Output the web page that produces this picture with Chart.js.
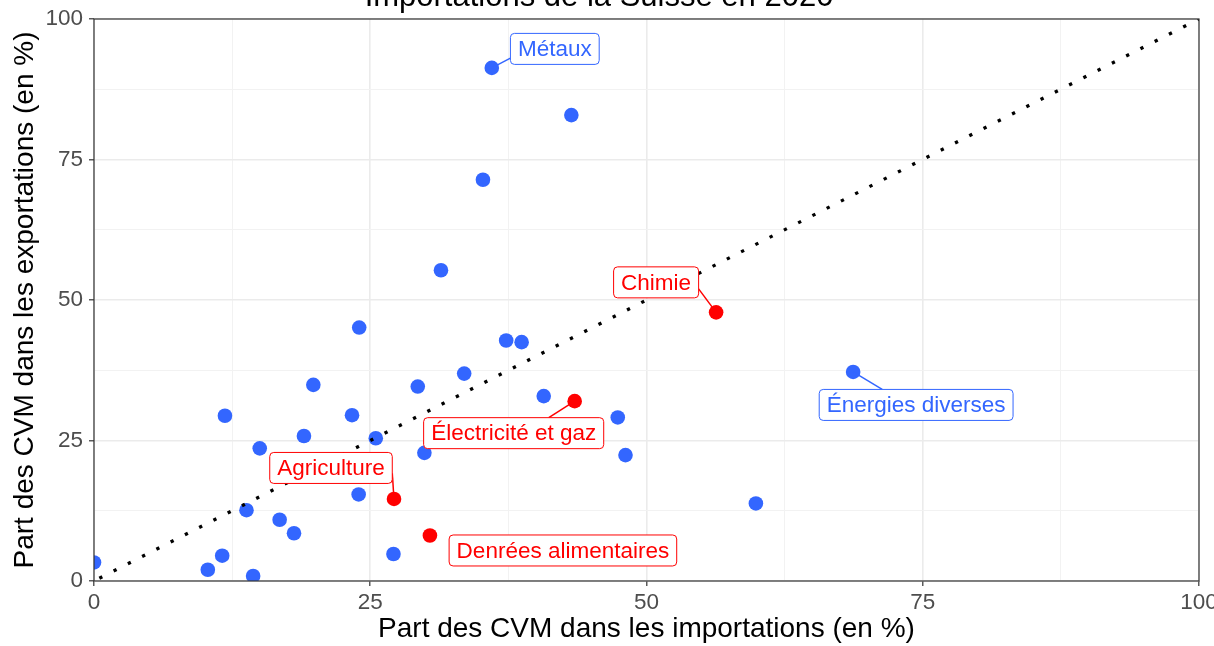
<!DOCTYPE html>
<html>
<head>
<meta charset="utf-8">
<script src="https://cdn.jsdelivr.net/npm/chart.js@4"></script>
<style>
  body { margin: 0; background: #fff; }
  canvas { display: block; }
</style>
</head>
<body>
<canvas id="chart" width="1214" height="646"></canvas>
<script>
// Part des CVM (en %) par secteur
const sectorLabel = ['Métaux', 'Énergies diverses', 'Chimie', 'Électricité et gaz', 'Agriculture', 'Denrées alimentaires',
    '', '', '', '', '', '', '', '', '', '', '', '', '', '', '', '', '', '', '', '', '', '', '', '', '', '', '', ''];
const highlighted = [false, false, true, true, true, true,
    false, false, false, false, false, false, false, false, false, false, false, false, false, false,
    false, false, false, false, false, false, false, false, false, false, false, false, false, false];
const importShare = [36.0, 68.7, 56.3, 43.5, 27.15, 30.4,
    0, 10.3, 11.6, 11.85, 14.4, 13.8, 15.0, 16.8, 18.1, 19.0, 19.85, 24.0, 23.35, 23.95,
    25.5, 27.1, 29.3, 29.9, 31.4, 33.5, 35.2, 37.3, 38.7, 40.7, 43.2, 47.4, 48.1, 59.9];
const exportShare = [91.3, 37.2, 47.8, 32.0, 14.6, 8.1,
    3.3, 2.0, 4.5, 29.4, 0.9, 12.6, 23.6, 10.9, 8.5, 25.8, 34.9, 45.1, 29.5, 15.4,
    25.4, 4.8, 34.6, 22.8, 55.3, 36.9, 71.4, 42.8, 42.5, 32.9, 82.9, 29.1, 22.4, 13.8];
const diagX = [0, 100];
const diagY = [0, 100];
const axisTicks = [0, 25, 50, 75, 100];

const BLUE = '#3366FF';
const RED = '#FF0000';
const FONT = "'Liberation Sans', Arial, sans-serif";

// label placement relative to the point (px), segment end as fraction of box half-size
const labelStyle = {
    'Métaux': { dx: 63, dy: -19, end: [-1, 0.6] },
    'Énergies diverses': { dx: 63, dy: 33, end: [-0.35, -1] },
    'Chimie': { dx: -60, dy: -30, end: [1, 0.42] },
    'Électricité et gaz': { dx: -61, dy: 32, end: [0.39, -1] },
    'Agriculture': { dx: -63, dy: -31, end: [1, 0.35] },
    'Denrées alimentaires': { dx: 133, dy: 15, end: null }
};

const bluePoints = [];
const redPoints = [];
importShare.forEach((x, i) => {
    const p = { x: x, y: exportShare[i], label: sectorLabel[i] };
    (highlighted[i] ? redPoints : bluePoints).push(p);
});
const diagPoints = diagX.map((x, i) => ({ x: x, y: diagY[i] }));

const isMajor = v => axisTicks.includes(v);

const titlePlugin = {
    id: 'cutTitle',
    afterDraw(chart) {
        const ctx = chart.ctx;
        ctx.save();
        ctx.font = '31px ' + FONT;
        ctx.fillStyle = '#000';
        ctx.textAlign = 'center';
        ctx.textBaseline = 'alphabetic';
        ctx.fillText('Importations de la Suisse en 2020', 599, 6);
        ctx.restore();
    }
};

const panelBorderPlugin = {
    id: 'panelBorder',
    afterDatasetsDraw(chart) {
        const a = chart.chartArea;
        const ctx = chart.ctx;
        ctx.save();
        ctx.strokeStyle = '#333333';
        ctx.lineWidth = 1.2;
        ctx.strokeRect(a.left, a.top, a.right - a.left, a.bottom - a.top);
        ctx.restore();
    }
};

const repelLabelPlugin = {
    id: 'repelLabels',
    afterDatasetsDraw(chart) {
        const ctx = chart.ctx;
        const xs = chart.scales.x, ys = chart.scales.y;
        ctx.save();
        ctx.font = '22.5px ' + FONT;
        [[bluePoints, BLUE], [redPoints, RED]].forEach(([pts, col]) => {
            pts.forEach(p => {
                const st = labelStyle[p.label];
                if (!st) return;
                const px = xs.getPixelForValue(p.x);
                const py = ys.getPixelForValue(p.y);
                const cx = px + st.dx, cy = py + st.dy;
                const hw = ctx.measureText(p.label).width / 2 + 7.5;
                const hh = 15.5;
                ctx.strokeStyle = col;
                if (st.end) {
                    ctx.lineWidth = 1.5;
                    ctx.beginPath();
                    ctx.moveTo(px, py);
                    ctx.lineTo(cx + st.end[0] * hw, cy + st.end[1] * hh);
                    ctx.stroke();
                }
                ctx.beginPath();
                ctx.roundRect(cx - hw, cy - hh, hw * 2, hh * 2, 4);
                ctx.fillStyle = '#fff';
                ctx.fill();
                ctx.lineWidth = 1;
                ctx.stroke();
                ctx.fillStyle = col;
                ctx.textAlign = 'center';
                ctx.textBaseline = 'middle';
                ctx.fillText(p.label, cx, cy + 1);
            });
        });
        ctx.restore();
    }
};

function axisOptions(titleText, isX) {
    return {
        type: 'linear',
        min: 0,
        max: 100,
        border: { display: false },
        grid: {
            color: c => isMajor(c.tick.value) ? '#ebebeb' : '#f2f2f2',
            lineWidth: c => isMajor(c.tick.value) ? 1.6 : 1,
            tickColor: c => isMajor(c.tick.value) ? '#333333' : 'rgba(0,0,0,0)',
            tickWidth: 1.2,
            tickLength: 5
        },
        ticks: {
            stepSize: 12.5,
            autoSkip: false,
            maxRotation: 0,
            padding: isX ? 3 : 6,
            color: '#4d4d4d',
            font: { family: FONT, size: 22.5 },
            callback: v => isMajor(v) ? String(v) : ''
        },
        title: {
            display: true,
            text: titleText,
            color: '#000',
            font: { family: FONT, size: 28 },
            padding: isX ? { top: 0, bottom: 0 } : { top: 8, bottom: 0 }
        },
        afterFit(scale) {
            if (isX) {
                scale.height = 65;
                scale.paddingLeft = 0;
                scale.paddingRight = 0;
            } else {
                scale.width = 94;
                scale.paddingTop = 0;
                scale.paddingBottom = 0;
            }
        }
    };
}

new Chart(document.getElementById('chart').getContext('2d'), {
    type: 'scatter',
    data: {
        datasets: [
            {
                type: 'line',
                data: diagPoints,
                borderColor: '#000',
                borderWidth: 3.3,
                borderDash: [3.3, 12.7],
                borderDashOffset: 10,
                borderCapStyle: 'butt',
                pointRadius: 0,
                fill: false,
                order: 0
            },
            {
                data: bluePoints,
                backgroundColor: BLUE,
                borderWidth: 0,
                pointRadius: 7.3,
                order: 1
            },
            {
                data: redPoints,
                backgroundColor: RED,
                borderWidth: 0,
                pointRadius: 7.3,
                order: 1
            }
        ]
    },
    options: {
        responsive: false,
        animation: false,
        devicePixelRatio: 1,
        layout: { padding: { top: 19, right: 15, left: 0, bottom: 0 } },
        plugins: {
            legend: { display: false },
            tooltip: { enabled: false }
        },
        scales: {
            x: axisOptions('Part des CVM dans les importations (en %)', true),
            y: axisOptions('Part des CVM dans les exportations (en %)', false)
        }
    },
    plugins: [panelBorderPlugin, repelLabelPlugin, titlePlugin]
});
</script>
</body>
</html>
